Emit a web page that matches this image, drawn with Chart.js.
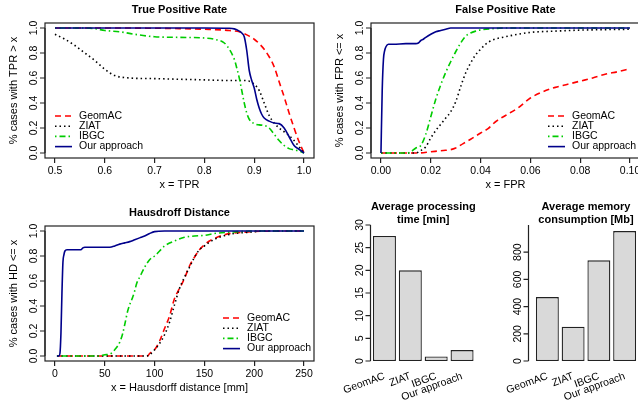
<!DOCTYPE html>
<html lang="en">
<head>
<meta charset="UTF-8">
<title>Segmentation comparison</title>
<script src="https://cdn.jsdelivr.net/npm/chart.js"></script>
<style>
  html, body { margin: 0; padding: 0; background: #fff; width: 638px; height: 402px; overflow: hidden; }
  body { position: relative; }
  canvas { position: absolute; }
</style>
</head>
<body>
<canvas id="tprChart" width="319" height="201" style="left:0;top:0"></canvas>
<canvas id="fprChart" width="330" height="201" style="left:319px;top:0"></canvas>
<canvas id="hdChart" width="319" height="201" style="left:0;top:201px"></canvas>
<canvas id="timeChart" width="165" height="201" style="left:319px;top:201px"></canvas>
<canvas id="memChart" width="162" height="201" style="left:478px;top:201px"></canvas>
<script>
// methods compared
const methods = ['GeomAC', 'ZIAT', 'IBGC', 'Our approach'];

// tick values
const probTicks = [0, 0.2, 0.4, 0.6, 0.8, 1.0];
const tprTicks = [0.5, 0.6, 0.7, 0.8, 0.9, 1.0];
const fprTicks = [0, 0.02, 0.04, 0.06, 0.08, 0.10];
const hdTicks = [0, 50, 100, 150, 200, 250];
const timeTicks = [0, 5, 10, 15, 20, 25, 30];
const memTicks = [0, 200, 400, 600, 800];

// True positive rate curves [x, % cases with TPR > x]
const tprGeomAC = [[0.5,1],[0.6,1],[0.7,0.998],[0.75,0.995],[0.8,0.99],[0.85,0.98],[0.87,0.97],[0.88,0.955],[0.89,0.935],[0.9,0.91],[0.91,0.875],[0.92,0.83],[0.93,0.77],[0.94,0.69],[0.95,0.57],[0.96,0.45],[0.97,0.32],[0.98,0.2],[0.99,0.09],[1.0,0]];
const tprZIAT = [[0.5,0.95],[0.52,0.91],[0.54,0.86],[0.56,0.8],[0.58,0.74],[0.6,0.67],[0.62,0.62],[0.65,0.6],[0.7,0.595],[0.75,0.59],[0.8,0.585],[0.85,0.58],[0.88,0.58],[0.89,0.575],[0.9,0.55],[0.91,0.5],[0.92,0.4],[0.93,0.3],[0.94,0.24],[0.95,0.2],[0.96,0.17],[0.97,0.14],[0.98,0.1],[0.99,0.05],[1.0,0]];
const tprIBGC = [[0.5,1],[0.55,1],[0.58,0.995],[0.6,0.98],[0.63,0.97],[0.66,0.95],[0.7,0.93],[0.75,0.925],[0.8,0.92],[0.82,0.91],[0.84,0.88],[0.85,0.83],[0.86,0.75],[0.865,0.68],[0.87,0.6],[0.875,0.5],[0.88,0.4],[0.885,0.32],[0.89,0.27],[0.9,0.235],[0.91,0.225],[0.92,0.22],[0.93,0.2],[0.94,0.15],[0.95,0.1],[0.96,0.06],[0.97,0.035],[0.98,0.025],[0.99,0.015],[1.0,0]];
const tprOurs = [[0.5,1],[0.8,1],[0.85,0.998],[0.86,0.993],[0.87,0.975],[0.875,0.96],[0.88,0.93],[0.885,0.82],[0.89,0.66],[0.895,0.58],[0.9,0.52],[0.905,0.43],[0.91,0.36],[0.915,0.31],[0.92,0.28],[0.93,0.255],[0.94,0.24],[0.95,0.235],[0.96,0.2],[0.97,0.13],[0.98,0.06],[0.99,0.03],[1.0,0]];

// False positive rate curves [x, % cases with FPR <= x]
const fprGeomAC = [[0,0],[0.015,0],[0.02,0.01],[0.025,0.02],[0.028,0.027],[0.03,0.04],[0.033,0.075],[0.036,0.11],[0.04,0.16],[0.043,0.195],[0.046,0.25],[0.05,0.3],[0.055,0.36],[0.06,0.44],[0.065,0.49],[0.07,0.525],[0.075,0.55],[0.08,0.575],[0.085,0.6],[0.09,0.63],[0.095,0.65],[0.1,0.675]];
const fprZIAT = [[0,0],[0.014,0],[0.016,0.02],[0.018,0.05],[0.02,0.12],[0.022,0.18],[0.024,0.23],[0.026,0.28],[0.028,0.33],[0.03,0.41],[0.032,0.53],[0.034,0.64],[0.036,0.72],[0.038,0.785],[0.04,0.83],[0.042,0.87],[0.045,0.905],[0.05,0.93],[0.055,0.95],[0.06,0.965],[0.07,0.975],[0.08,0.983],[0.09,0.987],[0.1,0.99]];
const fprIBGC = [[0,0],[0.01,0],[0.012,0.01],[0.014,0.04],[0.016,0.06],[0.018,0.15],[0.02,0.29],[0.022,0.43],[0.024,0.545],[0.026,0.645],[0.028,0.73],[0.03,0.81],[0.032,0.88],[0.034,0.935],[0.036,0.96],[0.038,0.975],[0.04,0.985],[0.045,0.995],[0.05,1],[0.1,1]];
const fprOurs = [[0,0],[0.0005,0.5],[0.001,0.75],[0.0015,0.82],[0.002,0.85],[0.003,0.87],[0.005,0.87],[0.01,0.875],[0.014,0.875],[0.015,0.88],[0.016,0.9],[0.017,0.91],[0.018,0.925],[0.02,0.95],[0.022,0.97],[0.024,0.98],[0.026,0.99],[0.028,1],[0.1,1]];

// Hausdorff distance curves [mm, % cases with HD <= x]
const hdGeomAC = [[2,0],[93,0],[95,0.02],[100,0.05],[105,0.12],[110,0.22],[115,0.32],[120,0.46],[125,0.54],[130,0.62],[135,0.72],[140,0.79],[145,0.85],[150,0.89],[155,0.92],[160,0.94],[170,0.97],[180,0.985],[190,0.99],[200,0.997],[250,1]];
const hdZIAT = [[2,0],[92,0],[95,0.01],[100,0.05],[105,0.1],[110,0.17],[115,0.27],[120,0.41],[125,0.54],[130,0.63],[135,0.71],[140,0.79],[145,0.85],[150,0.88],[155,0.91],[165,0.95],[180,0.98],[195,0.99],[210,1],[250,1]];
const hdIBGC = [[2,0],[45,0],[50,0.01],[55,0.015],[60,0.05],[65,0.11],[68,0.18],[70,0.25],[73,0.36],[75,0.41],[78,0.47],[80,0.52],[82,0.58],[85,0.63],[90,0.71],[95,0.77],[100,0.8],[105,0.84],[110,0.88],[120,0.92],[130,0.95],[140,0.96],[150,0.965],[160,0.98],[175,0.99],[200,1],[250,1]];
const hdOurs = [[2,0],[4,0],[5,0.02],[6,0.18],[7,0.5],[8,0.75],[9,0.81],[10,0.84],[12,0.85],[20,0.85],[26,0.85],[28,0.865],[30,0.87],[40,0.87],[55,0.87],[60,0.88],[65,0.895],[70,0.905],[75,0.915],[80,0.93],[85,0.945],[90,0.96],[95,0.98],[100,0.995],[110,1],[250,1]];

// averages per method
const timeValues = [27.6, 20.0, 1.0, 2.4];
const memValues = [470, 252, 740, 955];

const FONT = '"Liberation Sans", Arial, Helvetica, sans-serif';
const lineStyles = [
    { color: '#FF0000', dash: [6, 4] },
    { color: '#000000', dash: [1.5, 3] },
    { color: '#00CC00', dash: [1.5, 3, 6, 3] },
    { color: '#00008B', dash: [] }
];

// draws the R-like decorations: box, y axis, titles, legend
const rStyle = {
    id: 'rStyle',
    afterDraw(chart, args, o) {
        const ctx = chart.ctx, a = chart.chartArea, ys = chart.scales.y;
        ctx.save();
        ctx.strokeStyle = '#222';
        ctx.fillStyle = '#000';
        ctx.lineWidth = 1.2;
        ctx.setLineDash([]);
        if (o.box) ctx.strokeRect(a.left, a.top, a.right - a.left, a.bottom - a.top);

        // y axis with rotated labels
        const ax = a.left - (o.axisGap || 0);
        const px = ys.ticks.map(t => ys.getPixelForValue(t.value));
        const top = o.axisToMax ? ys.getPixelForValue(ys.max) : Math.min(...px);
        ctx.beginPath();
        ctx.moveTo(ax, Math.max(...px));
        ctx.lineTo(ax, top);
        px.forEach(p => { ctx.moveTo(ax, p); ctx.lineTo(ax - 5, p); });
        ctx.stroke();
        ctx.font = '10.5px ' + FONT;
        ctx.textAlign = 'center';
        ctx.textBaseline = 'alphabetic';
        ys.ticks.forEach((t, i) => {
            ctx.save();
            ctx.translate(ax - 8, px[i]);
            ctx.rotate(-Math.PI / 2);
            ctx.fillText(t.label, 0, 0);
            ctx.restore();
        });

        const cx = (a.left + a.right) / 2;
        ctx.textBaseline = 'middle';
        ctx.font = '11px ' + FONT;
        if (o.yTitle) {
            ctx.save();
            ctx.translate(a.left - 31, (a.top + a.bottom) / 2);
            ctx.rotate(-Math.PI / 2);
            ctx.fillText(o.yTitle, 0, 0);
            ctx.restore();
        }
        if (o.xTitle) ctx.fillText(o.xTitle, cx, a.bottom + 27);

        ctx.font = 'bold 11px ' + FONT;
        (o.title || []).forEach((t, i) => ctx.fillText(t, cx, a.top - o.titleY[i]));

        // legend
        if (o.legend) {
            ctx.font = '10.5px ' + FONT;
            ctx.textAlign = 'left';
            chart.data.datasets.forEach((ds, i) => {
                const x = a.left + o.legend.dx, y = a.top + o.legend.dy + i * 10.2;
                ctx.beginPath();
                ctx.strokeStyle = ds.borderColor;
                ctx.lineWidth = ds.borderWidth;
                ctx.setLineDash(ds.borderDash);
                ctx.moveTo(x, y);
                ctx.lineTo(x + 17, y);
                ctx.stroke();
                ctx.fillText(ds.label, x + 24, y);
            });
        }
        ctx.restore();
    }
};

function setTicks(values) {
    return s => { s.ticks = values.map(v => ({ value: v })); };
}

function lineChart(id, series, xMin, xMax, xTicks, xFmt, g, deco) {
    return new Chart(document.getElementById(id), {
        type: 'line',
        data: {
            datasets: series.map((s, i) => ({
                label: methods[i],
                data: s.map(p => ({ x: p[0], y: p[1] })),
                borderColor: lineStyles[i].color,
                borderDash: lineStyles[i].dash,
                borderWidth: 1.6,
                pointRadius: 0,
                fill: false,
                cubicInterpolationMode: 'monotone',
                order: series.length - 1 - i
            }))
        },
        options: {
            responsive: false,
            animation: false,
            devicePixelRatio: 1,
            layout: { padding: { top: g.top, right: g.w - g.right, left: 0, bottom: 0 } },
            plugins: { legend: { display: false }, tooltip: { enabled: false }, rStyle: Object.assign({ box: true }, deco) },
            scales: {
                x: {
                    type: 'linear', min: xMin, max: xMax,
                    afterBuildTicks: setTicks(xTicks),
                    afterFit: s => { s.height = g.h - g.bottom; },
                    ticks: { autoSkip: false, maxRotation: 0, padding: 2, color: '#000', font: { family: FONT, size: 10.5 }, callback: v => xFmt(v) },
                    grid: { drawOnChartArea: false, tickLength: 5, color: '#222', lineWidth: 1.2 },
                    border: { display: false }
                },
                y: {
                    type: 'linear', min: -0.04, max: 1.04,
                    afterBuildTicks: setTicks(probTicks),
                    afterFit: s => { s.width = g.left; },
                    ticks: { display: false, callback: v => v.toFixed(1) },
                    grid: { display: false },
                    border: { display: false }
                }
            }
        },
        plugins: [rStyle]
    });
}

function barChart(id, values, yMax, yTicks, g, deco) {
    return new Chart(document.getElementById(id), {
        type: 'bar',
        data: {
            labels: methods,
            datasets: [{
                data: values,
                backgroundColor: '#D9D9D9',
                borderColor: '#222',
                borderWidth: 1.3,
                borderSkipped: false,
                barPercentage: 0.89,
                categoryPercentage: 1
            }]
        },
        options: {
            responsive: false,
            animation: false,
            devicePixelRatio: 1,
            layout: { padding: { top: g.top, right: g.w - g.right, left: 0, bottom: 0 } },
            plugins: { legend: { display: false }, tooltip: { enabled: false }, rStyle: deco },
            scales: {
                x: {
                    afterFit: s => { s.height = g.h - g.bottom; },
                    ticks: { autoSkip: false, minRotation: 20, maxRotation: 20, padding: 1, color: '#000', font: { family: FONT, size: 10.5 } },
                    grid: { display: false },
                    border: { display: false }
                },
                y: {
                    min: 0, max: yMax,
                    afterBuildTicks: setTicks(yTicks),
                    afterFit: s => { s.width = g.left; },
                    ticks: { display: false, callback: v => String(v) },
                    grid: { display: false },
                    border: { display: false }
                }
            }
        },
        plugins: [rStyle]
    });
}

lineChart('tprChart', [tprGeomAC, tprZIAT, tprIBGC, tprOurs], 0.48, 1.02, tprTicks, v => v.toFixed(1),
    { w: 319, h: 201, left: 45, top: 23, right: 314, bottom: 158 },
    { title: ['True Positive Rate'], titleY: [13], xTitle: 'x = TPR', yTitle: '% cases with TPR > x', legend: { dx: 10, dy: 93 } });

lineChart('fprChart', [fprGeomAC, fprZIAT, fprIBGC, fprOurs], -0.004, 0.104, fprTicks, v => v.toFixed(2),
    { w: 330, h: 201, left: 52, top: 23, right: 321, bottom: 158 },
    { title: ['False Positive Rate'], titleY: [13], xTitle: 'x = FPR', yTitle: '% cases with FPR <= x', legend: { dx: 177, dy: 93 } });

lineChart('hdChart', [hdGeomAC, hdZIAT, hdIBGC, hdOurs], -10, 260, hdTicks, v => String(v),
    { w: 319, h: 201, left: 45, top: 25, right: 314, bottom: 160 },
    { title: ['Hausdroff Distance'], titleY: [13], xTitle: 'x = Hausdorff distance [mm]', yTitle: '% cases with HD <= x', legend: { dx: 178, dy: 92 } });

barChart('timeChart', timeValues, 30, timeTicks,
    { w: 165, h: 201, left: 52.5, top: 24, right: 156, bottom: 160 },
    { title: ['Average processing', 'time [min]'], titleY: [18.3, 5], axisGap: 1, axisToMax: true });

barChart('memChart', memValues, 1000, memTicks,
    { w: 162, h: 201, left: 56.5, top: 24, right: 159.5, bottom: 160 },
    { title: ['Average memory', 'consumption [Mb]'], titleY: [18.3, 5], axisGap: 6, axisToMax: true });
</script>
</body>
</html>
